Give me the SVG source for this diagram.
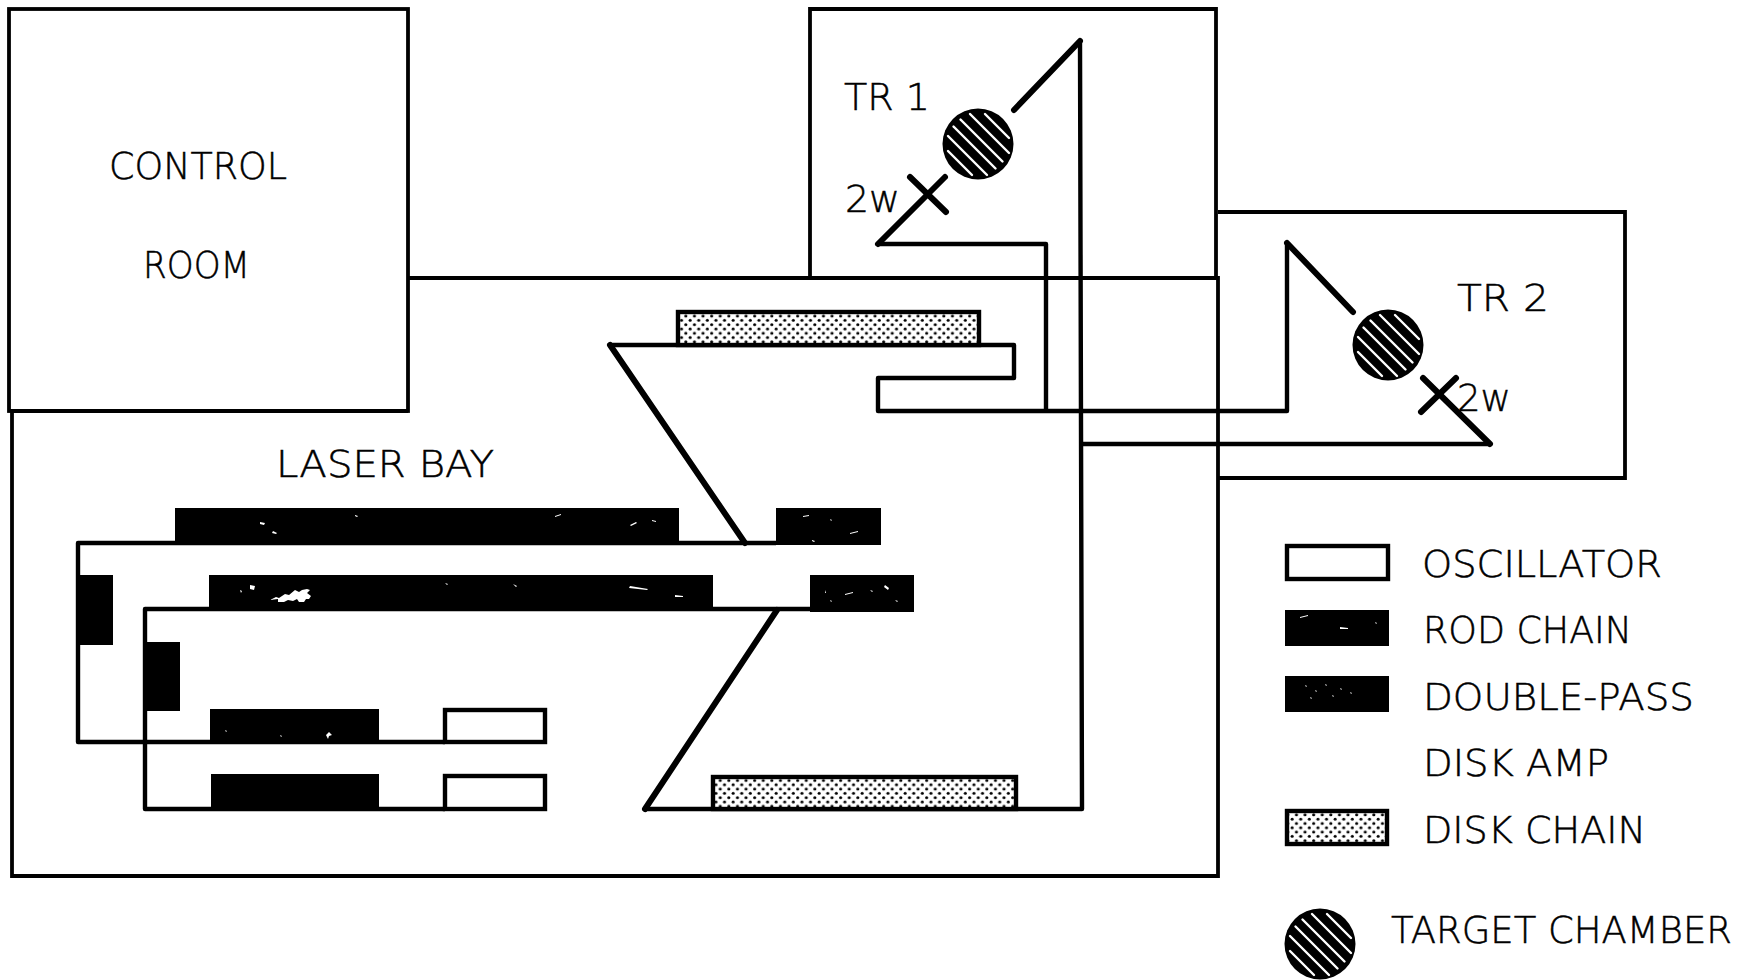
<svg xmlns="http://www.w3.org/2000/svg" width="1749" height="980" viewBox="0 0 1749 980">
<style>
.room{fill:none;stroke:#000;stroke-width:3.8;stroke-linejoin:miter}
.beam{fill:none;stroke:#000;stroke-width:4.4;stroke-linejoin:round}
.diag{fill:none;stroke:#000;stroke-width:6;stroke-linecap:round}
.rod{fill:#000}
.osc{fill:#fff;stroke:#000;stroke-width:4.4}
.disk{fill:url(#dots);stroke:#000;stroke-width:4.4}
.spk{fill:#fff}
text{font-family:"DejaVu Sans","Liberation Sans",sans-serif;font-weight:200;font-size:37px;fill:#000;stroke:#000;stroke-width:.5}
</style>
<defs>
<pattern id="dots" width="8.6" height="8.6" patternUnits="userSpaceOnUse">
<rect width="8.6" height="8.6" fill="#fff"/>
<circle cx="2.15" cy="2.15" r="1.55" fill="#000"/>
<circle cx="6.45" cy="6.45" r="1.55" fill="#000"/>
</pattern>
<g id="chamber">
<circle r="35.5" fill="#000"/>
<g stroke="#fff" stroke-width="2.4" stroke-linecap="round">
<line x1="7" y1="-30" x2="31" y2="-6"/>
<line x1="-8" y1="-30" x2="31" y2="9"/>
<line x1="-17.5" y1="-24.5" x2="24.5" y2="17.5"/>
<line x1="-24.5" y1="-17.5" x2="17.5" y2="24.5"/>
<line x1="-30" y1="-8" x2="9" y2="31"/>
<line x1="-30" y1="7" x2="-6" y2="31"/>
</g>
</g>
</defs>
<rect width="1749" height="980" fill="#fff"/>
<g id="control-room"><rect class="room" x="9" y="9" width="399" height="402"/>
<text x="109" y="179" textLength="178" lengthAdjust="spacingAndGlyphs">CONTROL</text>
<text x="143" y="278" textLength="107" lengthAdjust="spacingAndGlyphs">ROOM</text></g>
<g id="laser-bay"><path class="room" d="M408 278H1218V876H12V411H408"/>
<text x="276" y="477" textLength="218" lengthAdjust="spacingAndGlyphs">LASER BAY</text></g>
<g id="tr1-room"><path class="room" d="M810 278V9H1216V278"/>
<text x="844" y="110" textLength="86" lengthAdjust="spacingAndGlyphs">TR 1</text>
<text x="845" y="212" textLength="55" lengthAdjust="spacingAndGlyphs">2w</text></g>
<g id="tr2-room"><path class="room" d="M1218 212H1625V478H1218"/>
<text x="1457" y="311" textLength="92" lengthAdjust="spacingAndGlyphs">TR 2</text>
<text x="1457" y="411" textLength="54" lengthAdjust="spacingAndGlyphs">2w</text></g>
<g id="connectors">
<path class="beam" d="M78 609V543H776"/>
<path class="beam" d="M78 609V742H445"/>
<path class="beam" d="M145 668V609H810"/>
<path class="beam" d="M145 668V809H445"/>
<path class="beam" d="M645 809H1082L1080 41"/>
<path class="beam" d="M610 345H1014V378H878V411H1287V243"/>
<path class="beam" d="M878 244H1046V411"/>
<path class="beam" d="M1082 444H1490"/>
<path class="diag" d="M745 543L610 345"/>
<path class="diag" d="M777 610L645 809"/>
<path class="diag" d="M1014 110L1080 41"/>
<path class="diag" d="M878 244L945 177"/>
<path class="diag" d="M910 177L946 212"/>
<path class="diag" d="M1287 243L1353 312"/>
<path class="diag" d="M1423 378L1490 444"/>
<path class="diag" d="M1421 412L1456 378"/>
</g>
<g id="tr1-chamber"><use href="#chamber" x="978" y="144"/></g>
<g id="tr2-chamber"><use href="#chamber" x="1388" y="345"/></g>
<g id="rod-top"><rect class="rod" x="175" y="508" width="504" height="37"/>
<path class="spk" d="M260 522l5 1-1 2-4-1zM273 531l4 2-1 1-4-1zM355 515l3 1-1 1-2-1zM555 516l6-2v1l-6 2zM630 525l6-3 1 1-6 3zM652 520l4 1v1l-4-1z"/></g>
<g id="rod-top-right"><rect class="rod" x="776" y="508" width="105" height="37"/>
<path class="spk" d="M803 516l6-1v1l-6 1zM850 533l8-2v1l-8 2zM812 540l3 1-1 1-2-1zM830 519l2 1-1 1z"/></g>
<g id="double-top"><rect class="rod" x="209" y="575" width="504" height="36"/>
<path class="spk" d="M270 600l6-3 3 1 6-4 4 1 6-5 4 2 3-2 5-1 3 1-3 3 4 3-2 3-3 0-2 3-5 0-2-3-4 2-5-1-4 2-6 0 0-3zM250 585l5 1-1 4-4-1zM240 590l2 1-1 2zM445 583l3 1-1 1zM513 584l4 2-1 1zM630 586l18 3-1 1-18-2zM675 595l8 1v1h-8z"/></g>
<g id="double-top-right"><rect class="rod" x="810" y="575" width="104" height="37"/>
<path class="spk" d="M845 594l8-2v1l-8 2zM885 585l4 3-1 2-4-3zM830 600l2 1-1 1zM870 590l3 1-1 1zM895 600l3 1-1 1zM825 590l1 3h-1z"/></g>
<g id="mirror-a"><rect class="rod" x="76" y="575" width="37" height="70"/></g>
<g id="mirror-b"><rect class="rod" x="143" y="642" width="37" height="69"/></g>
<g id="rod-a"><rect class="rod" x="210" y="709" width="169" height="35"/>
<path class="spk" d="M326 735l3-3 3 3-3 1-1 3zM225 730l2 1-1 1zM280 735l2 1-1 1z"/></g>
<g id="osc-a"><rect class="osc" x="445" y="710" width="100" height="32"/></g>
<g id="rod-b"><rect class="rod" x="211" y="774" width="168" height="37"/></g>
<g id="osc-b"><rect class="osc" x="445" y="776" width="100" height="33"/></g>
<g id="disk-top"><rect class="disk" x="678" y="312" width="301" height="33"/></g>
<g id="disk-bottom"><rect class="disk" x="713" y="777" width="303" height="32"/></g>
<g id="legend">
<g id="legend-oscillator"><rect class="osc" x="1287" y="546" width="101" height="33"/><text x="1422" y="577" textLength="240" lengthAdjust="spacingAndGlyphs">OSCILLATOR</text></g>
<g id="legend-rod"><rect class="rod" x="1285" y="610" width="104" height="36"/>
<path class="spk" d="M1300 617l8-2v1l-8 2zM1340 627l8 1v1h-8zM1375 622l2 1-1 1z"/><text x="1423" y="643" textLength="209" lengthAdjust="spacingAndGlyphs">ROD CHAIN</text></g>
<g id="legend-double"><rect class="rod" x="1285" y="676" width="104" height="36"/>
<path class="spk" d="M1305 685l2 1-1 1zM1315 690l2 1-1 1zM1325 684l2 1-1 1zM1340 688l2 1-1 1zM1310 697l2 1-1 1zM1332 695l2 1-1 1zM1350 692l2 1-1 1z"/><text x="1423" y="710" textLength="271" lengthAdjust="spacingAndGlyphs">DOUBLE-PASS</text></g>
<g id="legend-amp"><text x="1423" y="776" textLength="186" lengthAdjust="spacingAndGlyphs">DISK AMP</text></g>
<g id="legend-disk"><rect class="disk" x="1287" y="811" width="100" height="33"/><text x="1423" y="843" textLength="223" lengthAdjust="spacingAndGlyphs">DISK CHAIN</text></g>
<g id="legend-chamber"><use href="#chamber" x="1320" y="944"/><text x="1391" y="943" textLength="341" lengthAdjust="spacingAndGlyphs">TARGET CHAMBER</text></g>
</g>
</svg>
